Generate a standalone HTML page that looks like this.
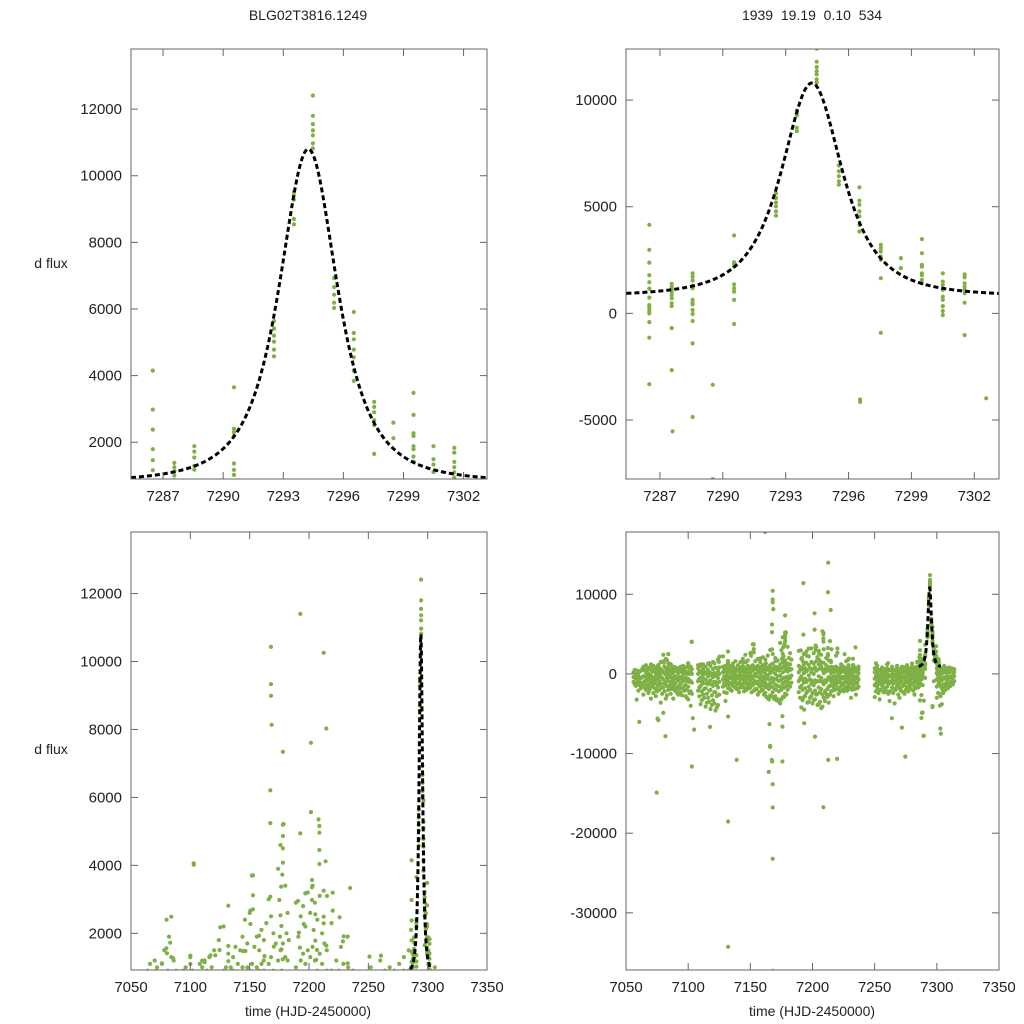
<!DOCTYPE html>
<html><head><meta charset="utf-8"><style>
html,body{margin:0;padding:0;background:#fff;width:1024px;height:1024px;overflow:hidden;}
svg{display:block;font-family:"Liberation Sans",sans-serif;}
text{white-space:pre;}
</style></head><body>
<svg id="chart" width="1024" height="1024" viewBox="0 0 1024 1024"></svg>
<script>
// ---- data ----
const eventT = [
7286.49,7286.49,7286.49,7286.49,7286.49,7286.49,7286.49,7286.49,7286.49,7286.49,7286.49,7286.49,7286.49,7286.49,
7287.56,7287.56,7287.56,7287.56,7287.56,7287.56,7287.56,7287.56,7287.56,7287.56,7287.6,
7288.56,7288.56,7288.56,7288.56,7288.56,7288.56,7288.56,7288.56,7288.56,7288.56,7288.56,7288.56,7288.56,
7289.52,7289.52,
7290.54,7290.54,7290.54,7290.54,7290.54,7290.54,7290.54,7290.54,7290.54,
7292.54,7292.54,7292.54,7292.54,7292.54,7292.54,
7293.53,7293.53,7293.53,7293.53,7293.53,
7294.48,7294.48,7294.48,7294.48,7294.48,7294.48,7294.48,
7295.54,7295.54,7295.54,7295.54,7295.54,
7296.52,7296.52,7296.52,7296.52,7296.52,7296.52,7296.52,7296.55,7296.55,
7297.54,7297.54,7297.54,7297.54,7297.54,7297.54,7297.54,
7298.5,7298.5,
7299.5,7299.5,7299.5,7299.5,7299.5,7299.5,7299.5,7299.5,
7300.5,7300.5,7300.5,7300.5,7300.5,7300.5,7300.5,7300.5,7300.5,
7301.54,7301.54,7301.54,7301.54,7301.54,7301.54,7301.54,7301.54,
7302.57];
const eventV = [
4150,2980,2380,1790,1460,1160,740,390,280,125,0,-410,-1140,-3320,
1380,1250,1130,1000,860,705,470,345,-690,-2660,-5530,
1880,1720,1540,1290,1175,630,500,420,160,-30,-360,-1410,-4860,
-3350,-7770,
3650,2400,2300,2190,1360,1170,1020,630,-500,
5640,5410,5200,5020,4780,4580,
9510,9400,9280,8700,8540,
12410,11800,11550,11360,11210,10970,10820,
6930,6660,6430,6190,6030,
5910,5280,5090,4780,4550,4150,3840,-4040,-4150,
3210,3060,2900,2660,2510,1650,-910,
2590,2120,
3480,2820,2270,2190,1880,1790,1570,1410,
1880,1490,1330,1100,780,630,340,110,-80,
1830,1690,1410,1250,1100,940,500,-1020,
-3980];
const outT = [7079.8,7080.3,7083,7084,7085.5,7076.1,7100,7100,7102.8,7110,7112,7117,7121,7124.7,7125.2,7132,7132,7132,7144.4,7146.4,7150.6,7150.6,7152.8,7152.8,7152.8,7157.9,7161.8,7162.5,7167.4,7167.4,7168,7168,7168.5,7168,7167.4,7170.3,7178,7178.6,7178,7178,7178,7177.5,7176.5,7175,7176,7176.7,7175.5,7176.7,7177.8,7190.7,7191.5,7192.7,7192.7,7192.3,7196.9,7195.5,7201.7,7201.7,7202.5,7202.5,7202.5,7205.3,7203.9,7205.3,7206.7,7206.1,7208,7208.8,7208.8,7208.8,7208.8,7212.4,7212.4,7212.4,7212.4,7214,7214.6,7214.6,7215.2,7220,7220,7225.8,7228.6,7229.2,7232.6,7234.6,7232.6,7251,7260.7,
7058.6,7060.7,7074.7,7075.3,7081.7,7102.9,7102.9,7103.7,7104.8,7117.6,7132.1,7132.1,7132.1,7139,7161.9,7164.8,7165.4,7165.9,7165.9,7167.3,7167.6,7168,7168,7168,7168,7175.8,7175.8,7175.8,7193.3,7193.3,7202,7208.8,7212.6,7212.6,7219.8,7274.6,7271.9,7263.9,7289.3,7288,7302.8,7303.3,7306,7305.2];
const outV = [1559,1412,1725,2490,1265,1118,1343,1098,4059,1196,1150,1353,1353,1510,2176,2814,1627,1180,1480,1480,2274,2667,2707,3706,3118,1931,1200,1330,6206,5245,9333,8990,8137,10431,3078,1608,7343,5216,4863,4500,4078,3725,3373,2980,2529,2216,1902,1529,1235,2951,2020,11402,4941,1578,3176,2274,7608,5569,3569,3353,2980,2559,2098,1784,1510,1216,5353,5157,4961,4451,4039,10255,3255,2490,2294,4118,8029,1637,3098,3196,2667,2471,1765,1912,1902,3333,1118,1314,1343,
-3222,-6025,-14900,-5600,-7820,4017,-11630,-5560,-6990,-6650,-18530,-34270,-5350,-10800,17820,-12300,-6320,-9040,-9160,-10800,-11000,-13850,-16780,-23220,-37280,-11000,-6610,-5310,-6190,-4480,-7870,-16740,-10800,13970,-10670,-10380,-6740,-5560,-7780,-4900,-6860,-7490,-1630,-2400];
const bandT = [7056,7058,7060,7062,7064,7066,7068,7070,7072,7074,7076,7078,7080,7082,7084,7086,7088,7090,7092,7094,7096,7098,7100,7102,7103,
7108,7110,7112,7114,7116,7118,7120,7122,7124,7125,
7128,7130,7132,7134,7136,7138,7140,7142,7144,7146,7148,7150,7152,7154,7156,7158,7160,7162,7164,7166,7168,7170,7172,7174,7176,7178,7180,7182,
7189,7191,7193,7195,7197,7199,7201,7203,7205,7207,7209,7211,7213,7215,7217,7219,7221,7223,7225,7227,7229,7231,7233,7235,7237,
7250,7252,7254,7256,7258,7260,7262,7264,7266,7268,7270,7272,7274,7276,7278,7280,7282,7284,7286,
7300,7302,7304,7306,7308,7310,7312,7314,
7057,7059,7061,7063,7065,7067,7069,7071,7073,7075,7077,7079,7081,7083,7085,7087,7089,7091,7093,7095,7097,7099,7101,
7109,7111,7113,7115,7117,7119,7121,7123,
7129,7131,7133,7135,7137,7139,7141,7143,7145,7147,7149,7151,7153,7155,7157,7159,7161,7163,7165,7167,7169,7171,7173,7175,7177,7179,7181,7183,
7190,7192,7194,7196,7198,7200,7202,7204,7206,7208,7210,7212,7214,7216,7218,7220,7222,7224,7226,7228,7230,7232,7234,7236,
7251,7253,7255,7257,7259,7261,7263,7265,7267,7269,7271,7273,7275,7277,7279,7281,7283,7285,
7301,7303,7305,7307,7309,7311,7313];
const bandV = [
[-1000,-400,200],[-1500,-600,0],[-2100,-900,100,-300],[-1800,-500,400,-1100],[-2600,-1200,-300,500,900],[-2000,-900,200,600,1100],[-1600,-700,0,700,-2400],[-3100,-1100,-200,500,1200],[-2400,-1300,-500,300,1000],[-1900,-800,100,800,-2800],[-5800,-1500,-600,200,1100],[-3600,-1200,-300,600,1500],[-4900,-1700,-700,200,2400],[-3100,-1000,-100,700,1900],[-2000,-900,0,800,1300],[-2500,-1300,-400,400,1200],[-1600,-700,200,900,-3100],[-2200,-1100,-300,500,800],[-1700,-800,100,700,-2600],[-2400,-1200,-400,300,900],[-1900,-900,0,600,1000],[-2800,-1400,-500,200,800],[-3200,-1600,-600,300,1300],[-4000,-2200,-900,200,900],[-2500,-1100,0,600],
[-2100,-900,0,700,1100],[-3800,-1500,-500,300,1000],[-2600,-1200,-200,600,1200],[-4100,-1800,-700,200,900],[-3000,-1300,-300,500,1300],[-4400,-2000,-800,100,1000],[-3300,-1500,-400,600,1500],[-4600,-2300,-1000,0,800],[-3900,-1700,-500,400,1800],[-2600,-1000,0,800],
[-1600,-700,200,900,2200],[-1400,-600,300,1000,-3400],[-1800,-800,100,800,1400],[-1200,-500,300,1000,-2000],[-1500,-700,200,900,1300],[-1700,-800,0,700,1600],[-1300,-500,400,1100,-1900],[-1600,-700,100,800,1500],[-1400,-600,300,1000,1900],[-1800,-900,0,700,2400],[-1500,-600,200,1000,1700],[-1700,-800,100,900,2600],[-1400,-500,400,1100,3700],[-1900,-900,0,800,1600],[-2600,-1000,200,1000,1900],[-1600,-700,100,900,1500],[-2000,-800,300,1100,2100],[-2400,-1100,0,900,1800],[-3000,-1400,-200,800,2300],[-2700,-1200,100,1100,3000],[-2300,-1000,300,1300,2500],[-2800,-1300,0,900,2000],[-3200,-1500,-300,800,1700],[-3700,-1600,-200,1200,3900],[-2900,-1200,200,1500,4600],[-2500,-1000,400,1700,5200],[-2000,-800,300,1300,3400],[-1600,-500,500,1200,2600],
[-2300,-900,200,1000,2900],[-4200,-1500,-300,800,1900],[-2900,-1100,100,1200,2500],[-2400,-1000,300,1400,2800],[-3500,-1600,-200,1100,2200],[-2800,-1200,200,1500,3200],[-3300,-1400,0,1300,2600],[-2600,-1000,400,1600,3400],[-3800,-1700,-300,1200,2900],[-4300,-1900,-500,900,2400],[-3000,-1300,100,1400,3100],[-2500,-1000,300,1100,2000],[-3600,-1600,-400,800,1700],[-2200,-900,100,900,1500],[-1600,-700,200,800,-2800],[-1400,-600,300,900,2300],[-1800,-800,0,700,-2500],[-1500,-600,200,800,1200],[-1300,-500,300,900,-2200],[-1700,-700,100,700,1600],[-1400,-600,200,800,1100],[-1900,-800,0,600,-3000],[-1500,-600,200,800,1000],[-1200,-500,300,700,-2600],[-1600,-700,100,600,900],
[-1400,-600,200,700,-2900],[-1700,-800,0,600,1000],[-2000,-900,-100,500,-3200],[-1500,-700,100,700,800],[-1800,-900,0,600,-2300],[-1600,-700,100,700,1200],[-2200,-1000,-200,500,-3400],[-1700,-800,0,600,900],[-1900,-900,-100,500,-3700],[-1500,-700,100,700,1000],[-1800,-800,0,600,-3000],[-1600,-700,100,700,900],[-1400,-600,200,800,-2500],[-1700,-800,0,600,1100],[-1500,-700,100,700,-1900],[-1300,-500,200,900,1300],[-1600,-700,100,800,-2600],[-1200,-500,300,900,1500],[-1500,-600,200,1000,2100],
[-1600,-700,100,700,-3000],[-2500,-1200,-200,600,900],[-1800,-800,0,700,-3800],[-1400,-600,200,800,1000],[-1600,-700,100,700],[-1300,-500,200,800],[-1100,-400,300,700],[-900,-300,200,600],
[-1300,-300,500],[-1100,-200,400],[-1400,-600,300],[-1500,-400,600],[-1700,-300,700,-900],[-1400,-500,400,-200],[-1200,-300,800,-2000],[-1600,-700,300,900],[-1800,-400,500,-1000],[-1300,-300,600,-2200],[-2000,-1000,0,700],[-1700,-500,400,-2500],[-2200,-1200,100,900],[-1500,-500,400,-2700],[-1600,-400,500,-1900],[-1900,-900,100,700],[-1300,-300,600,-2000],[-1700,-600,300,-2300],[-1400,-400,500,-1900],[-1800,-700,200,-2700],[-1500,-500,400,-2100],[-2000,-900,0,-3000],[-2400,-1000,0,800],
[-1700,-600,400,-2800],[-2200,-1000,100,-3300],[-1900,-700,300,-3000],[-2500,-1200,0,-3600],[-2100,-900,200,-3500],[-2700,-1300,-200,-3900],[-2300,-1000,100,-3700],[-2800,-1400,-300,-4200],
[-1200,-300,500,-2300],[-1000,-200,600,-2400],[-1300,-400,500,-1800],[-1100,-200,600,-2100],[-1000,-300,500,-1600],[-1200,-400,400,-1900],[-1100,-200,600,-2300],[-1300,-300,500,-1700],[-1000,-200,600,-2200],[-1200,-400,400,-2000],[-1100,-300,600,-1800],[-1300,-400,500,-2300],[-1000,-200,700,-2100],[-1200,-300,600,-1900],[-1400,-400,500,-2300],[-1200,-300,600,-2100],[-1500,-400,600,-2600],[-1700,-600,500,-2900],[-1900,-700,500,-3200],[-1600,-500,700,-2800],[-1800,-600,600,-3100],[-2000,-700,500,-3300],[-2200,-900,400,-3500],[-2000,-700,700,-3200],[-1700,-500,900,-2900],[-1500,-400,800,-2600],[-1200,-300,700,2000],[-1100,-200,600,1800],
[-1700,-600,500,-3000],[-2000,-700,600,-3300],[-1800,-600,700,-2800],[-2200,-800,500,-3600],[-2000,-700,700,-3000],[-2400,-900,600,-3700],[-2100,-800,800,-3200],[-2500,-900,500,-3900],[-2300,-900,700,-3500],[-2600,-1000,500,-4100],[-2200,-800,600,-3400],[-1900,-700,500,-2900],[-1500,-500,400,-2600],[-1200,-400,500,-2100],[-1000,-300,500,-2000],[-1100,-300,400,-1900],[-1000,-300,500,-2200],[-1200,-400,400,-2000],[-1000,-300,500,-1800],[-1100,-300,400,-2100],[-1000,-200,500,-1700],[-1200,-300,400,-2000],[-1000,-300,500,-1900],[-1100,-300,400,-1800],
[-1200,-300,500,-2200],[-1300,-400,400,-2400],[-1100,-300,500,-2000],[-1200,-400,400,-2300],[-1000,-300,500,-2100],[-1300,-400,400,-2500],[-1100,-300,500,-2200],[-1200,-400,400,-2400],[-1000,-300,500,-2000],[-1300,-400,400,-2600],[-1100,-300,500,-2100],[-1200,-400,400,-2300],[-1000,-300,500,-2000],[-1100,-300,400,-2200],[-1000,-200,600,-1900],[-1100,-300,500,-2100],[-900,-200,600,-1800],[-1000,-200,700,-1700],
[-1400,-500,300,-2400],[-1500,-600,300,-2800],[-1300,-500,400,-2200],[-1200,-400,400,-2000],[-1100,-400,400,-1800],[-1000,-300,400,-1500],[-800,-200,400,-1300]];
const modelT0 = [7294.25];
const modelBase = [790];
const modelAmp = [10010];
const modelWidth = [2.24];
const modelPow = [1.5];
const topXTicks = [7287,7290,7293,7296,7299,7302];
const botXTicks = [7050,7100,7150,7200,7250,7300,7350];
const tlYTicks = [2000,4000,6000,8000,10000,12000];
const trYTicks = [-5000,0,5000,10000];
const blYTicks = [2000,4000,6000,8000,10000,12000];
const brYTicks = [-30000,-20000,-10000,0,10000];

// ---- drawing ----
const NS = 'http://www.w3.org/2000/svg';
const svg = document.getElementById('chart');
const GREEN = '#7fb046';
function mk(tag, attrs, parent){const e=document.createElementNS(NS,tag);for(const k in attrs)e.setAttribute(k,attrs[k]);(parent||svg).appendChild(e);return e;}
function model(t){const x=(t-modelT0[0])/modelWidth[0];return modelBase[0]+modelAmp[0]*Math.pow(1+x*x,-modelPow[0]);}

function panel(id, box, xr, yr, xt, yt, sparse){
  const g = mk('g',{});
  
  
  const sx = v => box.x0 + (v-xr[0])/(xr[1]-xr[0])*(box.x1-box.x0);
  const sy = v => box.y1 - (v-yr[0])/(yr[1]-yr[0])*(box.y1-box.y0);
  const cp = mk('clipPath',{id:'clip-'+id}, g);
  mk('rect',{x:box.x0,y:box.y0,width:box.x1-box.x0,height:box.y1-box.y0}, cp);
  const pts = mk('g',{'clip-path':'url(#clip-'+id+')',fill:GREEN}, g);
  
  
  function dot(t,v){
    if (t<xr[0]-1||t>xr[1]+1) return;
    const c = mk('circle',{cx:sx(t).toFixed(1),cy:sy(v).toFixed(1),r:2.1}, pts);
    
    
  }
  if (sparse){
    for (let i=0;i<bandT.length;i++) for (const v of bandV[i]) dot(bandT[i], v);
    for (let i=0;i<outT.length;i++) dot(outT[i], outV[i]);
  }
  for (let i=0;i<eventT.length;i++) dot(eventT[i], eventV[i]);
  let d='';
  for (let k=0;k<=300;k++){const t=7285.4+k*(7303.2-7285.4)/300;d+=(k?'L':'M')+sx(t).toFixed(2)+','+sy(model(t)).toFixed(2);}
  const ml = mk('path',{d:d,fill:'none',stroke:'#000','stroke-width':3,'stroke-dasharray':'5,3','clip-path':'url(#clip-'+id+')'}, g);
  
  
  const fr = mk('rect',{x:box.x0,y:box.y0,width:box.x1-box.x0,height:box.y1-box.y0,fill:'none',stroke:'#666','stroke-width':1}, g);
  
  
  for (const v of xt){
    const x=sx(v);
    mk('line',{x1:x,x2:x,y1:box.y1,y2:box.y1-7,stroke:'#666'},g);
    mk('line',{x1:x,x2:x,y1:box.y0,y2:box.y0+7,stroke:'#666'},g);
    const tx = mk('text',{x:x,y:box.y1+22,'text-anchor':'middle','font-size':15,fill:'#222'},g);
    tx.textContent = v;
    
    
  }
  for (const v of yt){
    const y=sy(v);
    mk('line',{x1:box.x0,x2:box.x0+7,y1:y,y2:y,stroke:'#666'},g);
    mk('line',{x1:box.x1,x2:box.x1-7,y1:y,y2:y,stroke:'#666'},g);
    const ty = mk('text',{x:box.x0-9,y:y+5,'text-anchor':'end','font-size':15,fill:'#222'},g);
    ty.textContent = v;
    
    
  }
}
panel('zoom-left',{x0:131,x1:487,y0:49,y1:479},[7285.4,7303.17],[896,13805],topXTicks,tlYTicks,false);
panel('zoom-right',{x0:626,x1:999,y0:49,y1:479},[7285.38,7303.18],[-7765,12394],topXTicks,trYTicks,false);
panel('season-left',{x0:131,x1:487,y0:532,y1:970},[7050,7350],[920,13812],botXTicks,blYTicks,true);
panel('season-right',{x0:626,x1:999,y0:532,y1:970},[7050,7350],[-37180,17820],botXTicks,brYTicks,true);

function label(txt,x,y,name,anchor){
  const t = mk('text',{x:x,y:y,'text-anchor':anchor||'middle','font-size':14,fill:'#222'});
  t.textContent = txt;
  
  
}
label('BLG02T3816.1249',308,20,'left-title');
label('1939  19.19  0.10  534',812,20,'right-title');
label('d flux',51,268,'top-y-axis-title');
label('d flux',51,754,'bottom-y-axis-title');
label('time (HJD-2450000)',308,1016,'left-x-axis-title');
label('time (HJD-2450000)',812,1016,'right-x-axis-title');
</script>
</body></html>
